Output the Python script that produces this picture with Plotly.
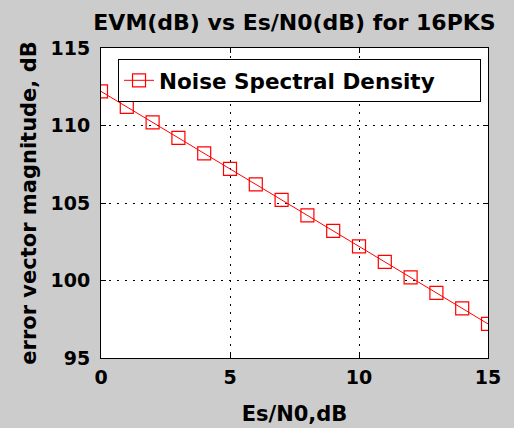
import plotly.graph_objects as go

esn0_db = [0, 1, 2, 3, 4, 5, 6, 7, 8, 9, 10, 11, 12, 13, 14, 15]
evm_db = [112.2, 111.2, 110.2, 109.2, 108.2, 107.2, 106.2, 105.2,
          104.2, 103.2, 102.2, 101.2, 100.2, 99.2, 98.2, 97.2]
series_name = "Noise Spectral Density"
x_ticks = [0, 5, 10, 15]
y_ticks = [95, 100, 105, 110, 115]

FONT = "DejaVu Sans"
BG = "#cccccc"

fig = go.Figure()
fig.add_trace(go.Scatter(
    x=esn0_db, y=evm_db, name=series_name, mode="lines+markers",
    line=dict(color="#ff0000", width=1),
    marker=dict(symbol="square-open", size=13, color="#ff0000", line=dict(width=1.2)),
))

axis_common = dict(
    showline=True, linecolor="black", linewidth=1, mirror="ticks",
    ticks="inside", ticklen=5, tickcolor="black", tickwidth=1,
    showgrid=True, gridcolor="black", gridwidth=1, griddash="2px,6px",
    zeroline=False,
    tickfont=dict(family=FONT, size=19, color="black", weight="bold"),
)

fig.update_layout(
    width=514, height=428,
    paper_bgcolor=BG, plot_bgcolor="white",
    margin=dict(l=101, r=26, t=48, b=70, autoexpand=False),
    title=dict(text="EVM(dB) vs Es/N0(dB) for 16PKS", x=0.5, xref="paper",
               y=1 - 22.5 / 428, yref="container", yanchor="middle", xanchor="center",
               font=dict(family=FONT, size=22, color="black", weight="bold")),
    xaxis=dict(range=[0, 15], tickvals=x_ticks, ticklabelstandoff=2,
               title=dict(text="Es/N0,dB", standoff=19,
                          font=dict(family=FONT, size=21, color="black", weight="bold")),
               **axis_common),
    yaxis=dict(range=[95, 115], tickvals=y_ticks, ticklabelstandoff=6,
               title=dict(text="error vector magnitude, dB", standoff=8,
                          font=dict(family=FONT, size=21, color="black", weight="bold")),
               **axis_common),
    legend=dict(x=0.044, y=0.965, xanchor="left", yanchor="top",
                bgcolor="white", bordercolor="black", borderwidth=1,
                orientation="h", entrywidth=316, entrywidthmode="pixels",
                font=dict(family=FONT, size=21.5, color="black", weight="bold")),
    showlegend=True,
)

fig.write_html("out.html")
